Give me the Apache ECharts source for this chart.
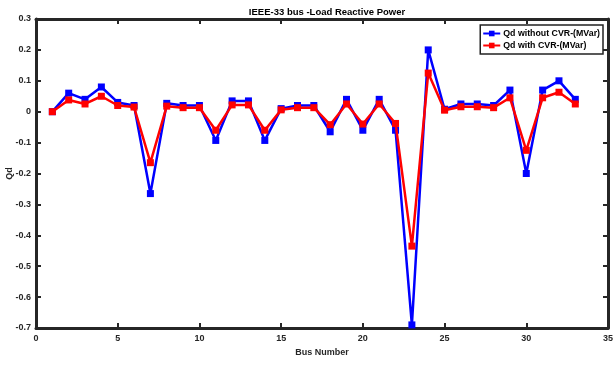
<!DOCTYPE html>
<html><head><meta charset="utf-8">
<script src="https://cdn.jsdelivr.net/npm/echarts@6/dist/echarts.min.js"></script>
<style>html,body{margin:0;padding:0;background:#fff}#c{width:613px;height:365px}</style>
</head><body><div id="c"></div>
<script>
const busNumbers = [1,2,3,4,5,6,7,8,9,10,11,12,13,14,15,16,17,18,19,20,21,22,23,24,25,26,27,28,29,30,31,32,33];
const qdWithout = [0,0.06,0.04,0.08,0.03,0.02,-0.265,0.027,0.02,0.02,-0.093,0.035,0.035,-0.093,0.01,0.02,0.02,-0.065,0.04,-0.06,0.04,-0.06,-0.69,0.2,0.008,0.025,0.025,0.02,0.07,-0.2,0.07,0.1,0.04];
const qdWith = [0,0.038,0.025,0.05,0.02,0.015,-0.165,0.018,0.013,0.013,-0.06,0.022,0.022,-0.06,0.006,0.013,0.013,-0.042,0.025,-0.04,0.025,-0.038,-0.435,0.125,0.005,0.016,0.016,0.013,0.045,-0.125,0.045,0.063,0.025];
const xTicks = [0,5,10,15,20,25,30,35];
const yTicks = [-0.7,-0.6,-0.5,-0.4,-0.3,-0.2,-0.1,0,0.1,0.2,0.3];

const chart = echarts.init(document.getElementById('c'));
const font = 'Liberation Sans, Arial, sans-serif';
const axCol = '#262626';
const lab = {color: axCol, fontSize: 9, fontWeight: 'bold', fontFamily: font};
const baseX = {type:'value', min:0, max:35, interval:5,
  axisLine:{show:true, onZero:false, lineStyle:{color:axCol, width:3}},
  axisTick:{show:true, inside:true, length:5, lineStyle:{color:axCol, width:2}},
  splitLine:{show:false}};
const baseY = {type:'value', min:-0.7, max:0.3, interval:0.1,
  axisLine:{show:true, onZero:false, lineStyle:{color:axCol, width:3}},
  axisTick:{show:true, inside:true, length:5, lineStyle:{color:axCol, width:2}},
  splitLine:{show:false}};
chart.setOption({
  animation:false,
  backgroundColor:'#fff',
  title:{text:'IEEE-33 bus -Load Reactive Power', left:322, top:2, textAlign:'center',
    textStyle:{fontSize:9.5, fontWeight:'bold', color:'#000', fontFamily:font}},
  grid:{left:36, right:5, top:19, bottom:37, containLabel:false, outerBoundsMode:'none'},
  legend:{right:10, top:25, orient:'vertical', itemGap:3, itemWidth:17, itemHeight:7,
    backgroundColor:'#fff', borderColor:'#222', borderWidth:1.5, padding:[4,3,4,2],
    textStyle:{fontSize:8.8, fontWeight:'bold', color:'#000', fontFamily:font, padding:[0,0,0,-2]}},
  xAxis:[
    Object.assign({}, baseX, {position:'bottom', name:'Bus Number', nameLocation:'middle', nameGap:20, nameMoveOverlap:false,
      nameTextStyle:{fontSize:9, fontWeight:'bold', color:axCol, fontFamily:font},
      axisLabel:Object.assign({margin:6, formatter:v=>xTicks.includes(v)?String(v):''}, lab)}),
    Object.assign({}, baseX, {position:'top', axisLabel:{show:false}})
  ],
  yAxis:[
    Object.assign({}, baseY, {position:'left', name:'Qd', nameLocation:'middle', nameGap:22, nameMoveOverlap:false,
      nameTextStyle:{fontSize:9, fontWeight:'bold', color:axCol, fontFamily:font},
      axisLabel:Object.assign({margin:5, formatter:v=>{const r=Math.round(v*10)/10; return yTicks.includes(r)?String(r):'';}}, lab)}),
    Object.assign({}, baseY, {position:'right', axisLabel:{show:false}})
  ],
  series:[
    {name:'Qd without CVR-(MVar)', type:'line', data:busNumbers.map((b,i)=>[b,qdWithout[i]]),
      symbol:'rect', symbolSize:7, color:'#0000ff', lineStyle:{width:2.5, color:'#0000ff'},
      itemStyle:{color:'#0000ff'}, z:2},
    {name:'Qd with CVR-(MVar)', type:'line', data:busNumbers.map((b,i)=>[b,qdWith[i]]),
      symbol:'rect', symbolSize:7, color:'#ff0000', lineStyle:{width:2.5, color:'#ff0000'},
      itemStyle:{color:'#ff0000'}, z:3}
  ]
});
</script></body></html>
